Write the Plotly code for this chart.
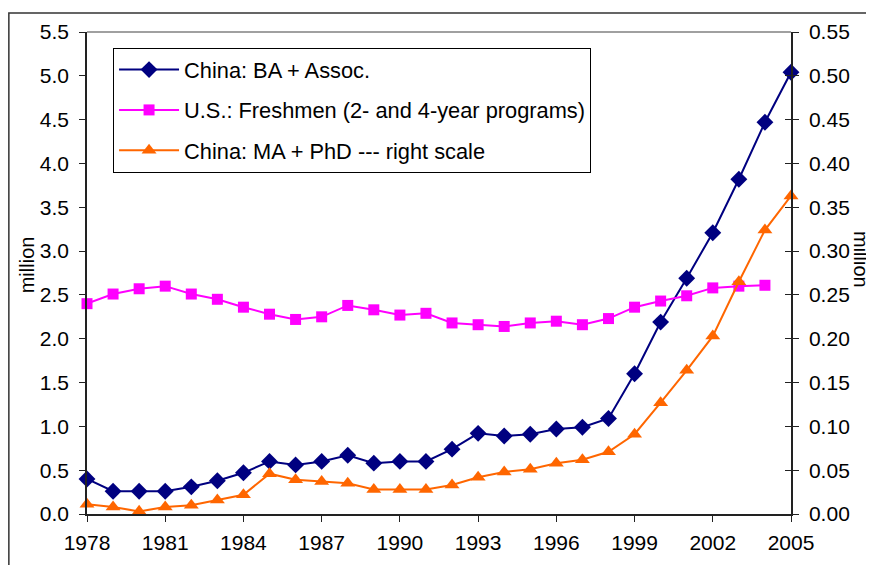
import plotly.graph_objects as go

years = list(range(1978, 2006))

# China: BA + Associate degrees (million, left scale)
china_ba = [0.40, 0.26, 0.26, 0.26, 0.31, 0.38, 0.47, 0.60, 0.56, 0.60,
            0.67, 0.58, 0.60, 0.60, 0.74, 0.92, 0.89, 0.91, 0.97, 0.99,
            1.09, 1.60, 2.19, 2.69, 3.21, 3.82, 4.47, 5.04]

# U.S. freshmen, 2- and 4-year programs (million, left scale), no 2005 value
us_freshmen = [2.40, 2.51, 2.57, 2.60, 2.51, 2.45, 2.36, 2.28, 2.22, 2.25,
               2.38, 2.33, 2.27, 2.29, 2.18, 2.16, 2.14, 2.18, 2.20, 2.16,
               2.23, 2.36, 2.43, 2.49, 2.58, 2.60, 2.61]

# China: MA + PhD (million, right scale)
china_grad = [0.011, 0.008, 0.003, 0.008, 0.010, 0.016, 0.022, 0.046, 0.039, 0.037,
              0.035, 0.028, 0.028, 0.028, 0.033, 0.042, 0.048, 0.051, 0.058, 0.062,
              0.071, 0.091, 0.127, 0.164, 0.203, 0.265, 0.324, 0.363]

left_ticks = [i * 0.5 for i in range(12)]
right_ticks = [i * 0.05 for i in range(12)]

FONT = "Liberation Sans, Arial, sans-serif"
AX = "#222222"

fig = go.Figure()

fig.add_trace(go.Scatter(
    x=years, y=china_ba, name="China: BA + Assoc.", legendgroup="a",
    mode="lines+markers", line=dict(color="#000080", width=2),
    marker=dict(symbol="diamond", size=13, color="#000080"), cliponaxis=False))
fig.add_trace(go.Scatter(
    x=years[:len(us_freshmen)], y=us_freshmen,
    name="U.S.: Freshmen (2- and 4-year programs)", legendgroup="b",
    mode="lines+markers", line=dict(color="#FF00FF", width=2),
    marker=dict(symbol="square", size=11, color="#FF00FF"), cliponaxis=False))
fig.add_trace(go.Scatter(
    x=years, y=china_grad, name="China: MA + PhD --- right scale", legendgroup="c",
    yaxis="y2", mode="lines+markers", line=dict(color="#FF6600", width=2),
    marker=dict(symbol="triangle-up", size=13, color="#FF6600"), cliponaxis=False))
# invisible copy so the crossing tick marks of the right axis get drawn
fig.add_trace(go.Scatter(
    x=years, y=china_grad, yaxis="y3", mode="lines", showlegend=False,
    line=dict(width=0), opacity=0, hoverinfo="skip"))

fig.update_layout(
    width=874, height=565,
    margin=dict(l=79, r=91, t=20, b=59),
    paper_bgcolor="white", plot_bgcolor="white",
    font=dict(family=FONT, size=21, color="black"),
    showlegend=True,
    legend=dict(
        x=0.037, y=0.967, xanchor="left", yanchor="top",
        bgcolor="white", bordercolor="black", borderwidth=1,
        font=dict(size=21.8), traceorder="grouped", tracegroupgap=9,
        itemwidth=60),
    xaxis=dict(
        range=[1978, 2005], tick0=1978, dtick=3, ticks="outside", ticklen=6,
        tickcolor=AX, showline=True, linecolor=AX, linewidth=1.5,
        showgrid=False, zeroline=False, ticklabelstandoff=3),
    yaxis=dict(
        range=[0, 5.5], tickvals=left_ticks, tickformat=".1f", ticks="outside",
        ticklen=6, tickcolor=AX, showline=True, linecolor=AX, linewidth=1.5,
        showgrid=False, zeroline=False, ticklabelstandoff=6),
    yaxis2=dict(
        range=[0, 0.55], tickvals=right_ticks, tickformat=".2f", overlaying="y",
        side="right", ticks="outside", ticklen=6, tickcolor=AX, showline=True,
        linecolor=AX, linewidth=1.5, showgrid=False, zeroline=False,
        ticklabelstandoff=6),
    yaxis3=dict(
        range=[0, 0.55], tickvals=right_ticks, overlaying="y", side="right",
        ticks="inside", ticklen=6, tickcolor=AX, showticklabels=False,
        showline=False, showgrid=False, zeroline=False),
)

# left and right axis titles
fig.add_annotation(text="million", xref="paper", yref="paper", x=-0.0852, y=0.516,
                   xanchor="center", yanchor="middle",
                   showarrow=False, textangle=-90, font=dict(size=20))
fig.add_annotation(text="million", xref="paper", yref="paper", x=1.0994, y=0.527,
                   xanchor="center", yanchor="middle",
                   showarrow=False, textangle=90, font=dict(size=20))

# grey top edge of the plot area
fig.add_shape(type="line", xref="paper", yref="paper", x0=0, x1=1, y0=1, y1=1,
              line=dict(color="#808080", width=1.5))
# outer chart frame
fig.add_shape(type="rect", xref="paper", yref="paper",
              x0=-0.111, x1=1.2, y0=-0.2, y1=1.0395,
              line=dict(color="#333333", width=1.5))

fig.write_html("out.html")
